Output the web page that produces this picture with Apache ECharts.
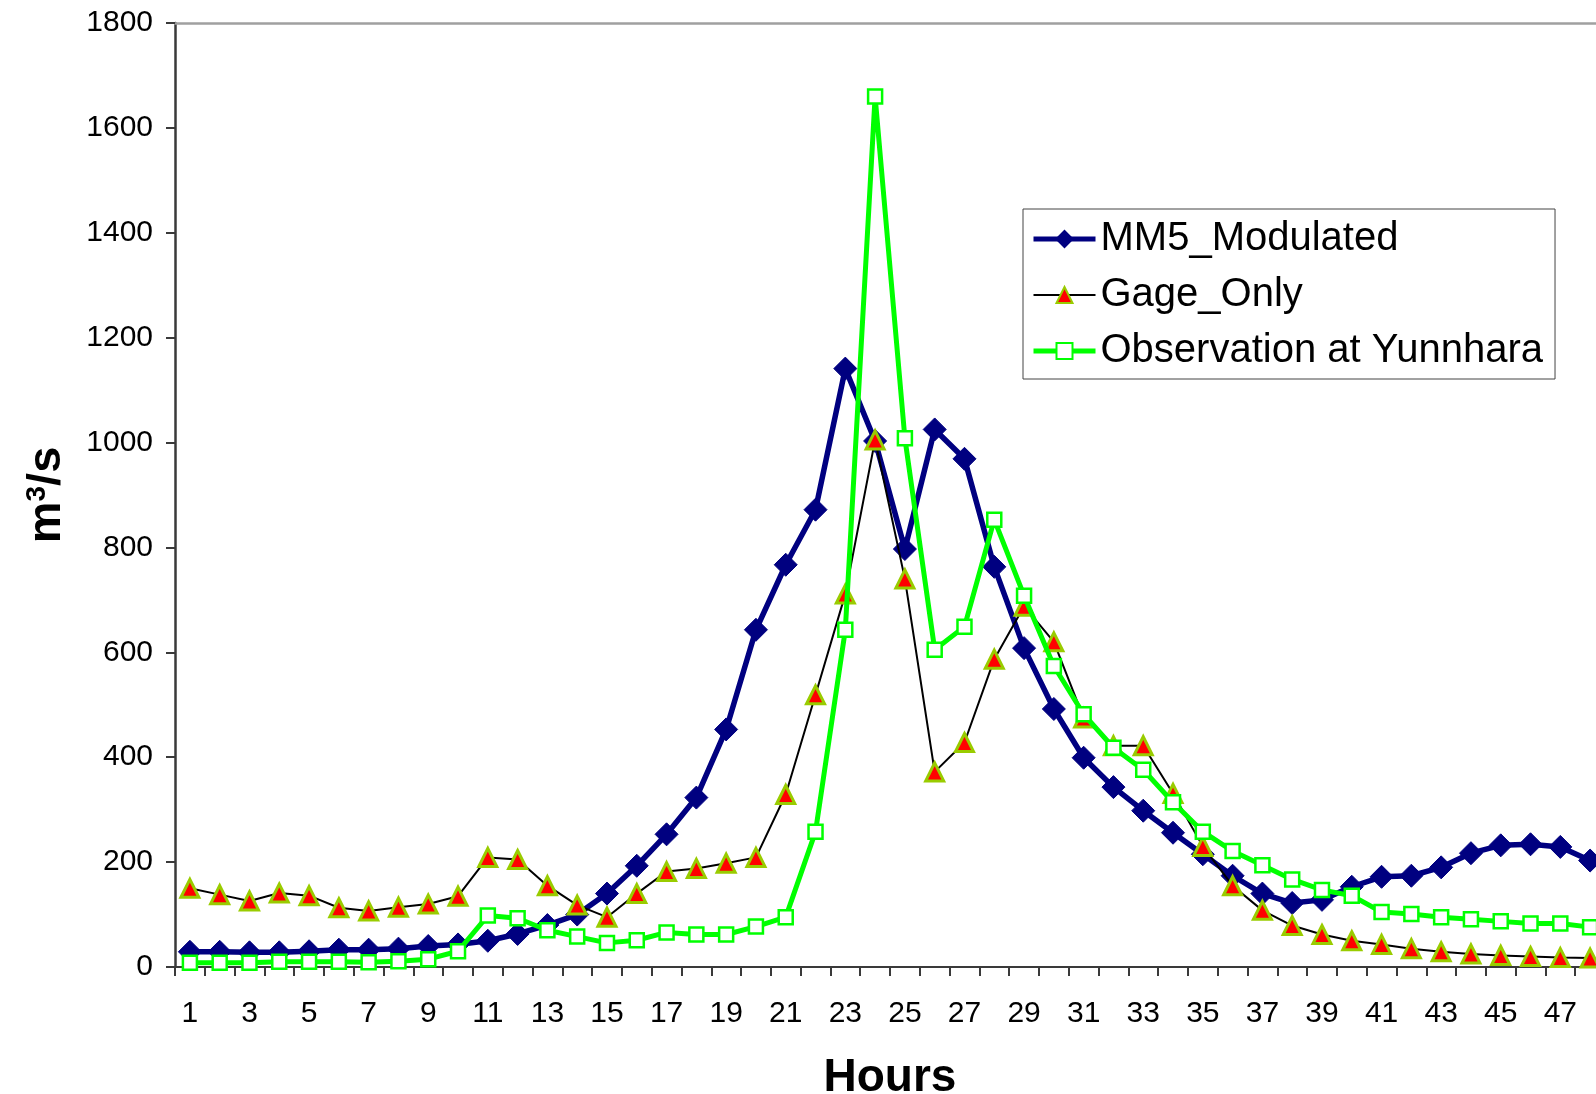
<!DOCTYPE html>
<html>
<head>
<meta charset="utf-8">
<script src="https://cdn.jsdelivr.net/npm/echarts@6/dist/echarts.min.js"></script>
<style>html,body{margin:0;padding:0;background:#fff}#c{width:1596px;height:1094px}</style>
</head>
<body>
<div id="c"></div>
<script>
const hours = Array.from({length: 48}, (_, i) => String(i + 1));
const mm5Modulated = [29,29,28,28,30,33,33,35,40,43,50,63,80,100,140,193,253,323,453,643,767,872,1141,1003,797,1025,969,763,608,492,399,343,298,256,215,174,140,122,128,153,172,174,190,217,232,234,229,203];
const gageOnly = [150,138,126,141,136,113,107,114,120,135,209,205,155,118,95,140,182,188,198,209,329,519,711,1005,740,372,428,587,688,620,475,422,422,331,230,155,108,79,62,50,43,35,29,25,22,20,18,17];
const observation = [8,8,8,10,10,10,9,11,15,30,98,93,70,58,46,51,66,62,62,77,95,258,643,1660,1008,605,649,853,708,574,482,418,376,314,258,221,194,167,147,136,105,101,95,91,87,83,83,76];
const yTicks = {min: 0, max: 1800, interval: 200};

const FONT = "'Liberation Sans', Arial, sans-serif";
const chart = echarts.init(document.getElementById('c'), null, {renderer: 'canvas'});
chart.setOption({
  backgroundColor: '#ffffff',
  animation: false,
  textStyle: {fontFamily: FONT},
  grid: {left: 175, right: -9, top: 23, bottom: 127, outerBoundsMode: 'none', containLabel: false},
  legend: {
    orient: 'vertical',
    left: 1023, top: 209,
    padding: [10, 12, 8, 8],
    backgroundColor: '#ffffff',
    borderColor: '#444',
    borderWidth: 1,
    itemWidth: 62, itemHeight: 20, itemGap: 16,
    textStyle: {fontFamily: FONT, fontSize: 40, color: '#000', lineHeight: 40},
    data: [
      {name: 'MM5_Modulated', lineStyle: {width: 5}},
      {name: 'Gage_Only', lineStyle: {width: 2}},
      {name: 'Observation at Yunnhara', lineStyle: {width: 5}}
    ]
  },
  xAxis: [{
    type: 'category',
    data: hours,
    boundaryGap: true,
    name: 'Hours',
    nameLocation: 'middle',
    nameGap: 88,
    nameTextStyle: {fontFamily: FONT, fontSize: 46, fontWeight: 'bold', color: '#000'},
    axisLine: {show: true, lineStyle: {color: '#3a3a3a', width: 2}},
    axisTick: {show: true, interval: 0, alignWithLabel: false, length: 9, lineStyle: {color: '#3a3a3a', width: 2}},
    axisLabel: {interval: 1, fontFamily: FONT, fontSize: 30, color: '#000', margin: 32},
    splitLine: {show: false}
  }, {
    type: 'category',
    data: hours,
    position: 'top',
    axisLine: {show: true, onZero: false, lineStyle: {color: '#a0a0a0', width: 2.5}},
    axisTick: {show: false},
    axisLabel: {show: false},
    splitLine: {show: false}
  }],
  yAxis: {
    type: 'value',
    min: yTicks.min, max: yTicks.max, interval: yTicks.interval,
    name: '{m|m}{sup|3}{m|/s}',
    nameLocation: 'middle',
    nameGap: 104,
    nameRotate: 90,
    nameTextStyle: {
      rich: {
        m: {fontFamily: FONT, fontSize: 47, fontWeight: 'bold', color: '#000'},
        sup: {fontFamily: FONT, fontSize: 28, fontWeight: 'bold', color: '#000', verticalAlign: 'top', padding: [0, 0, 20, 0]}
      }
    },
    axisLine: {show: true, lineStyle: {color: '#3a3a3a', width: 2.5}},
    axisTick: {show: true, length: 9, lineStyle: {color: '#3a3a3a', width: 2}},
    axisLabel: {fontFamily: FONT, fontSize: 30, color: '#000', margin: 22, formatter: v => String(v)},
    splitLine: {show: false}
  },
  series: [{
    name: 'MM5_Modulated',
    type: 'line',
    data: mm5Modulated,
    symbol: 'diamond',
    symbolSize: [23, 23],
    showAllSymbol: true,
    lineStyle: {color: '#000080', width: 5.5},
    itemStyle: {color: '#000080', borderColor: '#000080', borderWidth: 1},
    z: 2
  }, {
    name: 'Gage_Only',
    type: 'line',
    data: gageOnly,
    symbol: 'triangle',
    symbolSize: 18,
    showAllSymbol: true,
    lineStyle: {color: '#000000', width: 2},
    itemStyle: {color: '#ff0000', borderColor: '#99cc00', borderWidth: 3},
    z: 3
  }, {
    name: 'Observation at Yunnhara',
    type: 'line',
    data: observation,
    symbol: 'rect',
    symbolSize: 14,
    showAllSymbol: true,
    lineStyle: {color: '#00ff00', width: 5},
    itemStyle: {color: '#ffffff', borderColor: '#00ff00', borderWidth: 2.5},
    z: 4
  }]
});
</script>
</body>
</html>
